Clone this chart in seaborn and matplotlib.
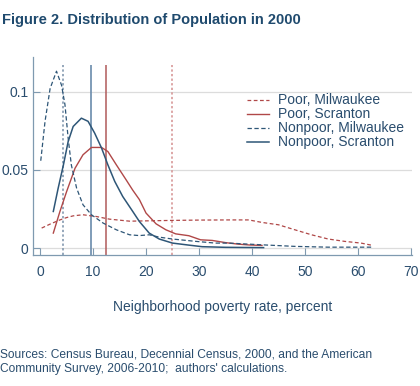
import pandas as pd
import seaborn as sns
import matplotlib.pyplot as plt

# densities
pm_x = [0.3, 2, 3.75, 5, 6.25, 8.1, 10.6, 13.1, 16.9, 20, 25, 30, 35.6, 39.4, 41.9, 45, 48.1, 51.25, 54.4, 57.5, 60.6, 62.8]
pm_y = [0.0128, 0.0155, 0.018, 0.0195, 0.0206, 0.0213, 0.0202, 0.0185, 0.0172, 0.0174, 0.0177, 0.0179, 0.018, 0.018, 0.0164, 0.0149, 0.0117, 0.0085, 0.0058, 0.0043, 0.0032, 0.0017]

ps_x = [2.5, 3.75, 5, 6.6, 8.1, 9.7, 11.6, 12.8, 14.4, 16.25, 17.5, 18.75, 20, 21.9, 23.75, 25.6, 28.1, 30.3, 32.5, 35, 37.5, 39.5, 41.9]
ps_y = [0.0096, 0.0234, 0.036, 0.051, 0.0596, 0.0643, 0.0643, 0.0617, 0.0532, 0.0436, 0.037, 0.031, 0.0224, 0.0155, 0.0117, 0.0091, 0.0079, 0.0053, 0.0049, 0.0035, 0.0025, 0.002, 0.0017]

nm_x = [0.13, 0.94, 1.9, 3.1, 4.06, 4.7, 5.3, 5.9, 6.9, 8.1, 9.7, 11.9, 14.4, 16.9, 18.75, 20.6, 22.5, 25, 29.4, 33.1, 35.6, 41.9, 48.1, 54.4, 62.8]
nm_y = [0.0558, 0.081, 0.102, 0.113, 0.104, 0.0916, 0.0703, 0.0532, 0.0383, 0.0277, 0.0213, 0.016, 0.0117, 0.0085, 0.008, 0.0085, 0.007, 0.0058, 0.0043, 0.0032, 0.0032, 0.0021, 0.0011, 0.0006, 0.0006]

ns_x = [2.5, 3.4, 4.4, 5.3, 6.25, 7.8, 9.06, 10.3, 11.6, 12.8, 14.1, 15.6, 17.5, 18.75, 20.6, 22.5, 25, 28.1, 30.6, 35, 42.2]
ns_y = [0.0234, 0.038, 0.053, 0.068, 0.0777, 0.083, 0.081, 0.0735, 0.064, 0.0532, 0.0426, 0.033, 0.0234, 0.017, 0.0096, 0.0058, 0.0032, 0.0019, 0.0009, 0.0005, 0.0003]

labels = ["Poor, Milwaukee", "Poor, Scranton", "Nonpoor, Milwaukee", "Nonpoor, Scranton"]
means = [25.0, 12.5, 4.25, 9.56]

red = "#b04848"
blue = "#2e5677"
txt = "#2a4d6e"

plt.rcParams["font.family"] = ["Liberation Sans", "DejaVu Sans"]
fig = plt.figure(figsize=(4.2, 3.86), dpi=100)
ax = fig.add_axes([0.079, 0.339, 0.903, 0.513])
ylo, yhi = -0.0045, 0.122

for y in [0, 0.05, 0.1]:
    ax.axhline(y, color="#dcdcdc", lw=0.9, zorder=0)

# mean lines
ax.vlines(means[2], ylo, 0.117, color="#7890a8", lw=1.1, ls=(0, (1.5, 1.5)))
ax.vlines(means[3], ylo, 0.117, color="#6a8bab", lw=1.2)
ax.vlines(means[1], ylo, 0.117, color="#b05a5a", lw=1.1)
ax.vlines(means[0], ylo, 0.117, color="#d49090", lw=1.1, ls=(0, (1.5, 1.5)))

sns.lineplot(x=pm_x, y=pm_y, ax=ax, color=red, lw=0.9, ls=(0, (3, 2)), label=labels[0])
sns.lineplot(x=ps_x, y=ps_y, ax=ax, color=red, lw=1.0, label=labels[1])
sns.lineplot(x=nm_x, y=nm_y, ax=ax, color=blue, lw=0.9, ls=(0, (3.5, 2)), label=labels[2])
sns.lineplot(x=ns_x, y=ns_y, ax=ax, color=blue, lw=1.1, label=labels[3])

leg = ax.legend(loc="upper left", bbox_to_anchor=(0.588, 0.758), bbox_transform=fig.transFigure,
                frameon=False, fontsize=10, handlelength=1.6, handletextpad=0.6,
                labelspacing=0.0, borderpad=0, borderaxespad=0)
for t in leg.get_texts():
    t.set_color(txt)

ax.set_xlim(-1.3, 70.3)
ax.set_ylim(ylo, yhi)
ax.set_xticks(range(0, 71, 10))
ax.set_yticks([0, 0.05, 0.1])
ax.set_yticklabels(["0", "0.05", "0.1"])
ax.tick_params(direction="in", length=5, width=0.8, colors="#7f9ab0", labelcolor=txt, labelsize=10)
ax.tick_params(axis="x", pad=7)
for s in ["top", "right"]:
    ax.spines[s].set_visible(False)
for s in ["left", "bottom"]:
    ax.spines[s].set_color("#7f9ab0")
    ax.spines[s].set_linewidth(0.9)
ax.set_xlabel("Neighborhood poverty rate, percent", color=txt, fontsize=10, labelpad=15)
ax.set_ylabel("")

fig.text(0.005, 0.938, "Figure 2. Distribution of Population in 2000", color="#1f4a6e",
         fontsize=10.5, fontweight="bold")
fig.text(0.0, 0.037, "Sources: Census Bureau, Decennial Census, 2000, and the American\n"
         "Community Survey, 2006-2010;  authors' calculations.", color=txt, fontsize=8.65,
         linespacing=1.2)

fig.savefig("out.png", dpi=100)
